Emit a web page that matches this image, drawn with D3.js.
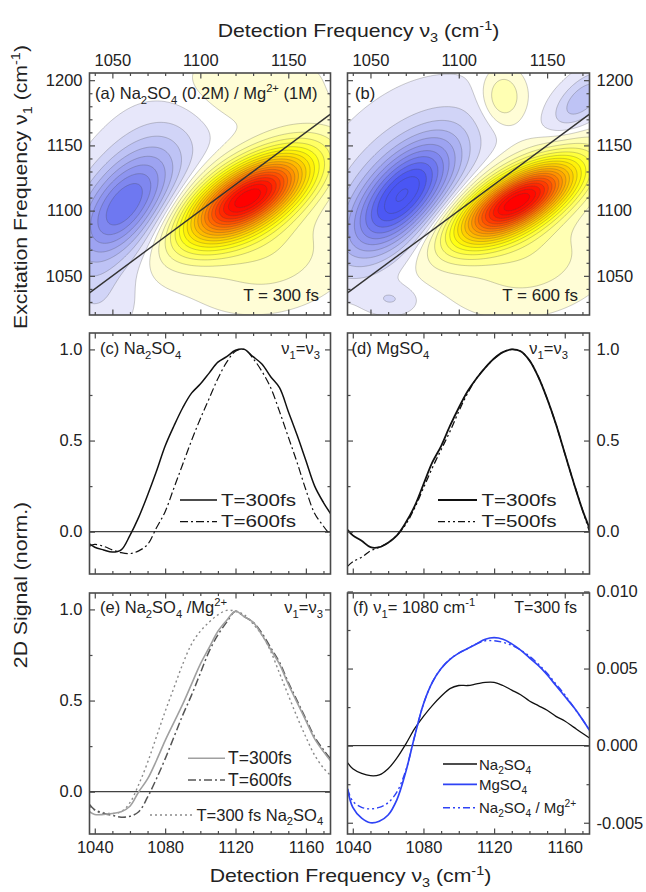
<!DOCTYPE html>
<html>
<head>
<meta charset="utf-8">
<script src="https://cdn.jsdelivr.net/npm/d3@7"></script>
<style>
  body { margin: 0; background: #fff; }
  text { font-family: Arial, "Liberation Sans", Helvetica, sans-serif; fill: #222; }
</style>
</head>
<body>
<svg id="fig" width="646" height="892"></svg>
<script>
// ---------- data ----------
// detection frequency samples (cm^-1) for the diagonal / slice traces
const nu3 = [1037,1040,1045,1050,1055,1060,1065,1070,1075,1080,1085,1090,1095,1100,1105,
             1110,1115,1120,1125,1130,1135,1140,1145,1150,1155,1160,1165,1170,1174];

// (c) Na2SO4 diagonal slices
const cT300 = [-0.066,-0.085,-0.10,-0.112,-0.10,-0.02,0.08,0.20,0.33,0.47,0.58,0.68,0.76,0.81,0.87,
               0.93,0.96,0.995,1.0,0.96,0.92,0.85,0.79,0.66,0.53,0.39,0.25,0.16,0.10];
const cT600 = [-0.08,-0.07,-0.08,-0.10,-0.115,-0.12,-0.105,-0.07,0.02,0.11,0.24,0.37,0.50,0.62,0.73,
               0.84,0.93,0.99,1.0,0.95,0.88,0.79,0.66,0.52,0.38,0.23,0.10,0.03,-0.02];
// (d) MgSO4 diagonal slices
const dT300 = [0.01,-0.02,-0.05,-0.085,-0.085,-0.06,-0.02,0.05,0.14,0.26,0.38,0.47,0.58,0.68,0.77,
               0.84,0.90,0.95,0.985,1.0,0.99,0.94,0.85,0.73,0.59,0.43,0.27,0.12,0.02];
const dT500 = [-0.19,-0.165,-0.14,-0.105,-0.085,-0.06,-0.02,0.04,0.13,0.24,0.35,0.45,0.55,0.66,0.76,
               0.84,0.90,0.95,0.985,1.0,0.99,0.94,0.85,0.73,0.59,0.43,0.27,0.12,0.0];
// (e) Na2SO4 / Mg2+ diagonal slices, plus Na2SO4 at 300 fs for reference
const eT300 = [-0.11,-0.125,-0.125,-0.12,-0.11,-0.08,0.0,0.07,0.17,0.28,0.38,0.48,0.59,0.70,0.79,
               0.88,0.94,0.99,0.96,0.93,0.86,0.78,0.70,0.59,0.49,0.39,0.29,0.22,0.17];
const eT600 = [-0.07,-0.10,-0.12,-0.13,-0.14,-0.135,-0.11,-0.03,0.07,0.18,0.30,0.42,0.53,0.65,0.77,
               0.86,0.93,0.99,0.96,0.93,0.87,0.79,0.71,0.60,0.50,0.40,0.30,0.23,0.18];
const eNa300 = [-0.08,-0.10,-0.115,-0.12,-0.11,-0.06,0.04,0.16,0.30,0.44,0.57,0.70,0.81,0.88,0.93,
                0.97,0.995,0.99,0.97,0.92,0.86,0.77,0.65,0.53,0.41,0.30,0.20,0.13,0.09];
// (f) horizontal slices at nu1 = 1080 cm^-1, T = 300 fs
const fNa = [-0.0011,-0.0015,-0.0018,-0.00195,-0.0019,-0.0015,-0.0008,0.0001,0.0011,0.0019,0.0026,
             0.0032,0.0037,0.0039,0.0039,0.0040,0.0041,0.0041,0.0039,0.0036,0.0033,0.0029,0.0026,
             0.0023,0.0019,0.0016,0.0012,0.0008,0.0005];
const fMg = [-0.0028,-0.0040,-0.0047,-0.0050,-0.0049,-0.0045,-0.0035,-0.0017,0.0006,0.0027,0.0041,
             0.0050,0.0056,0.0060,0.0063,0.0066,0.0069,0.0070,0.0069,0.0066,0.0062,0.0057,0.0052,
             0.0046,0.0039,0.0032,0.0025,0.0017,0.0010];
const fNaMg = [-0.0028,-0.0036,-0.0040,-0.0041,-0.0040,-0.0037,-0.0030,-0.0016,0.0006,0.0027,0.0041,
               0.0050,0.0056,0.0060,0.0063,0.0066,0.0068,0.0068,0.0067,0.0065,0.0062,0.0058,0.0053,
               0.0047,0.0040,0.0033,0.0025,0.0017,0.0010];

// 2D spectra: bands as [nu3 centre, nu1 centre, amplitude, width nu3, width nu1, correlation]
const mapA = [
  [1127, 1110,  1.00, 25, 24, 0.62],
  [1140, 1065,  0.10, 28, 25, 0.20],
  [1056, 1103, -0.36, 20, 30, 0.55],
  [1066, 1122, -0.07, 24, 45, 0.50],
  [1125, 1195,  0.06, 30, 20, 0.00],
  [1042, 1030, -0.05, 14, 20, 0.00]
];
const mapB = [
  [1133, 1107,  1.00, 24, 22, 0.66],
  [1140, 1062,  0.10, 28, 25, 0.20],
  [1068, 1111, -0.52, 21, 30, 0.62],
  [1062, 1130, -0.07, 32, 45, 0.50],
  [1125, 1187,  0.13,  8, 14, 0.00],
  [1170, 1185, -0.16, 12, 16, 0.60],
  [1062, 1032, -0.07, 10,  8, 0.00]
];

// axis ticks
const mapTicksMajor = [1050, 1100, 1150];
const mapTicksMinor = [1040,1060,1070,1080,1090,1110,1120,1130,1140,1160,1170];
const excTicksMajor = [1050, 1100, 1150, 1200];
const excTicksMinor = [1030,1040,1060,1070,1080,1090,1110,1120,1130,1140,1160,1170,1180,1190];
const sliceTicksMajor = [1040, 1080, 1120, 1160];
const sliceTicksMinor = [1050,1060,1070,1090,1100,1110,1130,1140,1150,1170];
const normTicksMajor = [0, 0.5, 1.0];
const normTicksMinor = [0.25, 0.75];
const absTicksMajor = [-0.005, 0, 0.005, 0.010];
const absTicksMinor = [-0.0025, 0.0025, 0.0075];

// ---------- layout ----------
const svg = d3.select("#fig");
const colX = [[89.5, 330.5], [347.5, 589.5]];
const rowY = [[73, 315], [333, 574], [593, 834]];
const freqDomain = [1037, 1174];
const excDomain = [1020, 1205.5];
const normDomain = [-0.232, 1.09];
const absDomain = [-0.00573, 0.0099];
const FS = 16.5;
const frameColor = "#4a4a4a";

const defs = svg.append("defs");

// text with sub/superscript runs; optional horizontal stretch and rotation
function rich(g, x, y, segs, opts = {}) {
  const fs = opts.size || FS;
  const sx = opts.stretch || 1;
  const t = g.append("text").attr("x", 0).attr("y", 0)
    .attr("font-size", fs).attr("text-anchor", opts.anchor || "start")
    .attr("transform", `translate(${x},${y})${opts.rotate ? ` rotate(${opts.rotate})` : ""} scale(${sx},1)`);
  let shift = 0;
  segs.forEach(s => {
    const [str, kind] = Array.isArray(s) ? s : [s, ""];
    let target = 0, size = fs;
    if (kind === "sub") { target = 0.28 * fs; size = 0.68 * fs; }
    if (kind === "sup") { target = -0.4 * fs; size = 0.68 * fs; }
    t.append("tspan").attr("dy", target - shift).attr("font-size", size).text(str);
    shift = target;
  });
  return t;
}

function makePanel(id, c, r, xDom, yDom) {
  const [x0, x1] = colX[c], [y0, y1] = rowY[r];
  const x = d3.scaleLinear().domain(xDom).range([x0, x1]);
  const y = d3.scaleLinear().domain(yDom).range([y1, y0]);
  defs.append("clipPath").attr("id", "clip-" + id)
    .append("rect").attr("x", x0).attr("y", y0).attr("width", x1 - x0).attr("height", y1 - y0);
  const g = svg.append("g");
  const plot = g.append("g").attr("clip-path", `url(#clip-${id})`);
  return { g, plot, x, y, x0, x1, y0, y1 };
}

function axes(p, o) {
  const styleAxis = sel => {
    sel.select(".domain").remove();
    sel.selectAll("line").attr("stroke", frameColor).attr("stroke-width", 1.2);
    sel.selectAll("text").attr("font-size", FS).attr("fill", "#222")
      .attr("font-family", 'Arial, "Liberation Sans", Helvetica, sans-serif');
  };
  const blank = () => "";
  const sides = [
    [d3.axisBottom, p.x, `translate(0,${p.y1})`, o.xMajor, o.xMinor, o.labelBottom, o.xFmt],
    [d3.axisTop, p.x, `translate(0,${p.y0})`, o.xMajor, o.xMinor, o.labelTop, o.xFmt],
    [d3.axisLeft, p.y, `translate(${p.x0},0)`, o.yMajor, o.yMinor, o.labelLeft, o.yFmt],
    [d3.axisRight, p.y, `translate(${p.x1},0)`, o.yMajor, o.yMinor, o.labelRight, o.yFmt]
  ];
  sides.forEach(([ax, sc, tr, major, minor, lab, fmt]) => {
    p.g.append("g").attr("transform", tr)
      .call(ax(sc).tickValues(minor).tickSize(-3).tickFormat(blank)).call(styleAxis);
    p.g.append("g").attr("transform", tr)
      .call(ax(sc).tickValues(major).tickSize(-5.5).tickPadding(7).tickFormat(lab ? fmt : blank))
      .call(styleAxis);
  });
  p.g.append("rect").attr("x", p.x0).attr("y", p.y0)
    .attr("width", p.x1 - p.x0).attr("height", p.y1 - p.y0)
    .attr("fill", "none").attr("stroke", frameColor).attr("stroke-width", 1.6);
}

// ---------- 2D contour maps ----------
const colorMap = d3.scaleLinear()
  .domain([-0.5, -0.35, -0.2, -0.1, -0.03, 0, 0.03, 0.1, 0.2, 0.3, 0.4, 0.5, 0.6, 0.7, 0.8, 0.9, 1.0])
  .range(["#4a56f4", "#7d86ef", "#aab0f2", "#cfd2f7", "#ededfb", "#ffffff",
          "#fffce0", "#ffffb0", "#ffff60", "#ffff10", "#ffe000", "#ffb800",
          "#ff9000", "#ff6400", "#ff3a00", "#ff1400", "#ff0000"])
  .clamp(true);
const levels = d3.range(-0.97, -0.01, 0.05).concat(d3.range(0.02, 1.0, 0.05));

function field(bands, a, b) {
  let v = 0;
  for (const [c3, c1, amp, s3, s1, rho] of bands) {
    const u = (a - c3) / s3, w = (b - c1) / s1;
    v += amp * Math.exp(-(u * u - 2 * rho * u * w + w * w) / (2 * (1 - rho * rho)));
  }
  return v;
}

function drawMap(p, bands) {
  const g3 = d3.range(1030, 1182, 1), g1 = d3.range(1012, 1214, 1);
  const nx = g3.length, ny = g1.length;
  const vals = new Float64Array(nx * ny);
  for (let j = 0; j < ny; j++) for (let i = 0; i < nx; i++) vals[j * nx + i] = field(bands, g3[i], g1[j]);
  const proj = d3.geoTransform({
    point(cx, cy) { this.stream.point(p.x(g3[0] + (cx - 0.5)), p.y(g1[0] + (cy - 0.5))); }
  });
  const path = d3.geoPath(proj);
  const polys = d3.contours().size([nx, ny]).thresholds(levels)(vals);
  p.plot.append("rect").attr("x", p.x0).attr("y", p.y0).attr("width", p.x1 - p.x0)
    .attr("height", p.y1 - p.y0).attr("fill", colorMap(-1));
  polys.forEach((c, i) => {
    const lo = c.value, hi = i + 1 < levels.length ? levels[i + 1] : lo + 0.05;
    const fill = (lo < 0 && hi > 0) ? "#ffffff" : colorMap((lo + hi) / 2);
    p.plot.append("path").attr("d", path(c)).attr("fill", fill).attr("stroke", "none");
  });
  polys.forEach(c => {
    p.plot.append("path").attr("d", path(c)).attr("fill", "none")
      .attr("stroke", "rgba(70,70,70,0.38)").attr("stroke-width", 0.7);
  });
  // diagonal nu1 = nu3
  p.plot.append("path")
    .attr("d", d3.line().x(d => p.x(d)).y(d => p.y(d))(freqDomain))
    .attr("stroke", "#333").attr("stroke-width", 1.4).attr("fill", "none");
}

const fmtInt = d => String(d);
const pA = makePanel("a", 0, 0, freqDomain, excDomain);
drawMap(pA, mapA);
axes(pA, { xMajor: mapTicksMajor, xMinor: mapTicksMinor, yMajor: excTicksMajor, yMinor: excTicksMinor,
           labelTop: true, labelLeft: true, xFmt: fmtInt, yFmt: fmtInt });
const pB = makePanel("b", 1, 0, freqDomain, excDomain);
drawMap(pB, mapB);
axes(pB, { xMajor: mapTicksMajor, xMinor: mapTicksMinor, yMajor: excTicksMajor, yMinor: excTicksMinor,
           labelTop: true, labelRight: true, xFmt: fmtInt, yFmt: fmtInt });

rich(pA.g, 95, 99, ["(a) Na", ["2", "sub"], "SO", ["4", "sub"], " (0.2M) / Mg", ["2+", "sup"], " (1M)"]);
rich(pA.g, 319, 300.5, ["T = 300 fs"], { anchor: "end", size: 17 });
rich(pB.g, 355, 99, ["(b)"]);
rich(pB.g, 578, 300.5, ["T = 600 fs"], { anchor: "end", size: 17 });

// ---------- 1D slices ----------
function drawTraces(p, series) {
  p.plot.append("line").attr("x1", p.x0).attr("x2", p.x1)
    .attr("y1", p.y(0)).attr("y2", p.y(0)).attr("stroke", "#111").attr("stroke-width", 1);
  const line = d3.line().x((d, i) => p.x(nu3[i])).y(d => p.y(d)).curve(d3.curveCatmullRom.alpha(0.5));
  series.forEach(s => {
    p.plot.append("path").attr("d", line(s.values)).attr("fill", "none")
      .attr("stroke", s.color).attr("stroke-width", s.width)
      .attr("stroke-dasharray", s.dash || null);
  });
}
function legend(p, items, size, stretch) {
  items.forEach(it => {
    p.g.append("line").attr("x1", it.x1).attr("x2", it.x2).attr("y1", it.y).attr("y2", it.y)
      .attr("stroke", it.s.color).attr("stroke-width", it.s.width)
      .attr("stroke-dasharray", it.s.dash || null);
    rich(p.g, it.tx, it.y + 5.5, it.label, { size: it.size || size, stretch });
  });
}

const DASHDOT = "8,3,2,3", DASHDOTDOT = "7,3,2,3,2,3", DOT = "2,3";
const blue = "#2f43f5";

const pC = makePanel("c", 0, 1, freqDomain, normDomain);
const sC = [{ values: cT300, color: "#111", width: 1.5 },
            { values: cT600, color: "#111", width: 1.2, dash: DASHDOT }];
drawTraces(pC, sC);
axes(pC, { xMajor: sliceTicksMajor, xMinor: sliceTicksMinor, yMajor: normTicksMajor, yMinor: normTicksMinor,
           labelLeft: true, yFmt: d3.format(".1f") });
rich(pC.g, 100, 354, ["(c) Na", ["2", "sub"], "SO", ["4", "sub"]]);
rich(pC.g, 320, 354, ["\u03BD", ["1", "sub"], "=\u03BD", ["3", "sub"]], { anchor: "end" });
legend(pC, [{ x1: 180, x2: 217, y: 500, tx: 221, s: sC[0], label: ["T=300fs"] },
            { x1: 180, x2: 217, y: 521.7, tx: 221, s: sC[1], label: ["T=600fs"] }], 16.5, 1.25);

const pD = makePanel("d", 1, 1, freqDomain, normDomain);
const sD = [{ values: dT300, color: "#111", width: 1.8 },
            { values: dT500, color: "#111", width: 1.3, dash: DASHDOTDOT }];
drawTraces(pD, sD);
axes(pD, { xMajor: sliceTicksMajor, xMinor: sliceTicksMinor, yMajor: normTicksMajor, yMinor: normTicksMinor,
           labelRight: true, yFmt: d3.format(".1f") });
rich(pD.g, 351.5, 354, ["(d) MgSO", ["4", "sub"]]);
rich(pD.g, 568, 354, ["\u03BD", ["1", "sub"], "=\u03BD", ["3", "sub"]], { anchor: "end" });
legend(pD, [{ x1: 438, x2: 477, y: 500, tx: 481.5, s: sD[0], label: ["T=300fs"] },
            { x1: 438, x2: 477, y: 521.7, tx: 481.5, s: sD[1], label: ["T=500fs"] }], 16.5, 1.25);

const pE = makePanel("e", 0, 2, freqDomain, normDomain);
const sE = [{ values: eNa300, color: "#8a8a8a", width: 1.4, dash: DOT },
            { values: eT600, color: "#555", width: 1.5, dash: DASHDOT },
            { values: eT300, color: "#a0a0a0", width: 1.6 }];
drawTraces(pE, sE);
axes(pE, { xMajor: sliceTicksMajor, xMinor: sliceTicksMinor, yMajor: normTicksMajor, yMinor: normTicksMinor,
           labelLeft: true, labelBottom: true, xFmt: fmtInt, yFmt: d3.format(".1f") });
rich(pE.g, 100, 613, ["(e) Na", ["2", "sub"], "SO", ["4", "sub"], " /Mg", ["2+", "sup"]]);
rich(pE.g, 323, 613, ["\u03BD", ["1", "sub"], "=\u03BD", ["3", "sub"]], { anchor: "end" });
legend(pE, [{ x1: 188, x2: 225, y: 758.3, tx: 228, s: sE[2], label: ["T=300fs"] },
            { x1: 188, x2: 225, y: 780, tx: 228, s: sE[1], label: ["T=600fs"] },
            { x1: 150, x2: 192, y: 815, tx: 196.5, s: sE[0], size: 16.5,
              label: ["T=300 fs Na", ["2", "sub"], "SO", ["4", "sub"]] }], 17.5, 1);

const pF = makePanel("f", 1, 2, freqDomain, absDomain);
const sF = [{ values: fNa, color: "#111", width: 1.3 },
            { values: fNaMg, color: blue, width: 1.4, dash: DASHDOTDOT },
            { values: fMg, color: blue, width: 1.7 }];
drawTraces(pF, sF);
axes(pF, { xMajor: sliceTicksMajor, xMinor: sliceTicksMinor, yMajor: absTicksMajor, yMinor: absTicksMinor,
           labelRight: true, labelBottom: true, xFmt: fmtInt, yFmt: d => d.toFixed(3) });
rich(pF.g, 353, 613, ["(f) \u03BD", ["1", "sub"], "= 1080 cm", ["-1", "sup"]]);
rich(pF.g, 577, 613, ["T=300 fs"], { anchor: "end", size: 16 });
legend(pF, [{ x1: 443, x2: 477, y: 764, tx: 479, s: sF[0], label: ["Na", ["2", "sub"], "SO", ["4", "sub"]] },
            { x1: 443, x2: 477, y: 784.3, tx: 479, s: sF[2], label: ["MgSO", ["4", "sub"]] },
            { x1: 443, x2: 477, y: 807.7, tx: 479, s: sF[1], label: ["Na", ["2", "sub"], "SO", ["4", "sub"], " / Mg", ["2+", "sup"]] }], 15, 1);

// ---------- axis titles ----------
const titleDet = ["Detection Frequency \u03BD", ["3", "sub"], " (cm", ["-1", "sup"], ")"];
rich(svg, 358.5, 37, titleDet, { size: 18, anchor: "middle", stretch: 1.18 });
rich(svg, 350.5, 882, titleDet, { size: 18, anchor: "middle", stretch: 1.18 });
rich(svg, 27, 187, ["Excitation Frequency \u03BD", ["1", "sub"], " (cm", ["-1", "sup"], ")"],
     { size: 18, anchor: "middle", rotate: -90, stretch: 1.18 });
rich(svg, 27, 585, ["2D Signal (norm.)"], { size: 18, anchor: "middle", rotate: -90, stretch: 1.18 });
</script>
</body>
</html>
